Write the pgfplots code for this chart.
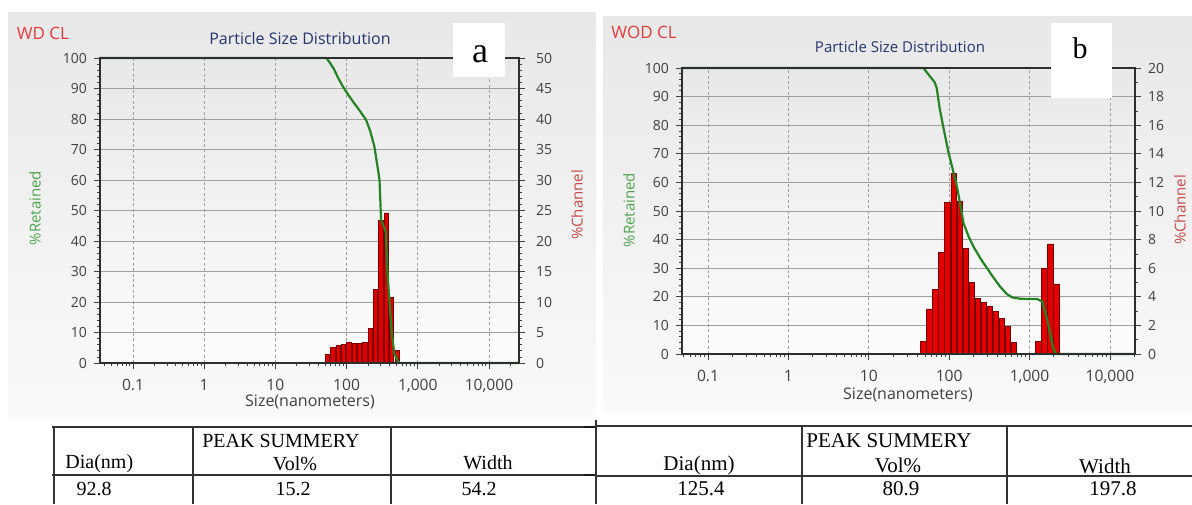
\documentclass[border=0pt]{standalone}
\usepackage{fontspec}
\setmainfont{Liberation Serif}
\newfontfamily\chartfont{Open Sans}
\usepackage{pgfplots}
\pgfplotsset{compat=1.18}

\definecolor{retgreen}{RGB}{36,132,36}
\definecolor{barred}{RGB}{224,0,0}
\definecolor{bardark}{RGB}{120,0,0}
\definecolor{titleblue}{RGB}{38,52,112}
\definecolor{wdred}{RGB}{228,58,58}
\definecolor{lblgreen}{RGB}{78,165,78}
\definecolor{lblred}{RGB}{200,72,72}
\definecolor{tickgray}{RGB}{64,64,64}
\definecolor{gridgray}{RGB}{160,160,160}

\pgfplotsset{
  psdticks/.style={
    tick align=outside,
    major tick length=3pt, minor tick length=1.5pt,
    tick style={tickgray, line width=0.4pt},
    yticklabel style={font=\chartfont\fontsize{7}{8}\selectfont, text=tickgray},
    xticklabel style={font=\chartfont\fontsize{7.8}{9}\selectfont, text=tickgray, yshift=-1.5pt},
    xtick={0.1,1,10,100,1000,10000},
    xticklabels={0.1,1,10,100,{1,000},{10,000}},
    minor xtick={0.04,0.05,0.06,0.07,0.08,0.09,0.2,0.3,0.4,0.5,0.6,0.7,0.8,0.9,2,3,4,5,6,7,8,9,20,30,40,50,60,70,80,90,200,300,400,500,600,700,800,900,2000,3000,4000,5000,6000,7000,8000,9000,20000},
    axis line style={black!82, line width=0.9pt},
  },
}

\begin{document}
\begin{tikzpicture}
\path[use as bounding box] (0,0) rectangle (596pt,-252pt);

% panel backgrounds
\begin{scope}[x=0.5pt, y=-0.5pt]
\shade[top color=black!9, bottom color=black!2] (8,12) rectangle (596,418);
\shade[top color=black!9, bottom color=black!2] (603,16) rectangle (1192,412);
\end{scope}

% ---------- panel a ----------
\begin{axis}[at={(50pt,-181.5pt)}, anchor=south west, scale only axis,
  width=209.5pt, height=152.5pt, xmode=log,
  xmin=0.0344, xmax=26400, ymin=0, ymax=100,
  psdticks, /pgf/number format/assume math mode=true,
  ytick={0,10,...,100}, minor y tick num=4, xtick pos=bottom, ytick pos=left,
  xmajorgrids, ymajorgrids,
  x grid style={gridgray, dash pattern=on 1.5pt off 1.2pt, line width=0.35pt},
  y grid style={gridgray, line width=0.35pt},
  axis background/.style={top color=black!9, bottom color=black!1}]
\addplot[draw=none] coordinates {(1,0)};
\end{axis}

\begin{axis}[at={(50pt,-181.5pt)}, anchor=south west, scale only axis,
  width=209.5pt, height=152.5pt, xmode=log,
  xmin=0.0344, xmax=26400, ymin=0, ymax=50,
  psdticks, /pgf/number format/assume math mode=true,
  axis y line*=right, axis x line=none,
  ytick={0,5,...,50}, minor y tick num=4,
  yticklabel style={xshift=2pt}, bar interval width=0.8]
\addplot[ybar interval, fill=barred, draw=bardark, line width=0.35pt] coordinates {
  (49.24,1.4) (58.56,2.5) (69.64,2.9) (82.81,3.1) (98.48,3.4) (117.1,3.2)
  (139.3,3.2) (165.6,3.4) (197.0,5.7) (234.2,12.1) (278.6,23.4) (331.3,24.6)
  (394.0,10.8) (468.5,2.0) (557.2,0)
};
\end{axis}

\begin{axis}[at={(50pt,-181.5pt)}, anchor=south west, scale only axis,
  width=209.5pt, height=152.5pt, xmode=log,
  xmin=0.0344, xmax=26400, ymin=0, ymax=100,
  xtick=\empty, ytick=\empty, axis on top, clip=false,
  axis line style={black!82, line width=0.9pt}]
\addplot[retgreen, line width=1.1pt] coordinates {
  (0.0344,100) (52,100) (58,98.5) (66,96.5) (76,93.5) (89,90.6) (105,88)
  (125,85.5) (150,83) (188,79.7) (215,76) (246,70.9) (265,66) (282,62)
  (290,60) (298,53) (305,47) (330,45) (355,43) (375,30) (398,21) (430,10)
  (469,3) (517,1) (550,0) (26400,0)
};
\end{axis}

% ---------- panel b ----------
\begin{axis}[at={(341pt,-177pt)}, anchor=south west, scale only axis,
  width=226.5pt, height=143pt, xmode=log,
  xmin=0.0475, xmax=20500, ymin=0, ymax=100,
  psdticks, /pgf/number format/assume math mode=true,
  ytick={0,10,...,100}, minor y tick num=4, xtick pos=bottom, ytick pos=left,
  xmajorgrids, ymajorgrids,
  x grid style={gridgray, dash pattern=on 1.5pt off 1.2pt, line width=0.35pt},
  y grid style={gridgray, line width=0.35pt},
  axis background/.style={top color=black!9, bottom color=black!1}]
\addplot[draw=none] coordinates {(1,0)};
\end{axis}

\begin{axis}[at={(341pt,-177pt)}, anchor=south west, scale only axis,
  width=226.5pt, height=143pt, xmode=log,
  xmin=0.0475, xmax=20500, ymin=0, ymax=20,
  psdticks, /pgf/number format/assume math mode=true,
  axis y line*=right, axis x line=none,
  ytick={0,2,...,20}, minor y tick num=1,
  bar interval width=0.9]
\addplot[ybar interval, fill=barred, draw=bardark, line width=0.35pt] coordinates {
  (43.79,0.9) (52.07,3.15) (61.93,4.5) (73.64,7.1) (87.57,10.6) (104.1,12.6)
  (123.8,10.7) (147.3,7.4) (175.1,5.0) (208.3,3.9) (247.7,3.6) (294.5,3.3)
  (350.3,3.0) (416.5,2.5) (495.3,1.9) (589.1,0.8) (700.5,0)
};
\addplot[ybar interval, fill=barred, draw=bardark, line width=0.35pt] coordinates {
  (1178.3,0.9) (1401.3,6.0) (1666.4,7.7) (1981.7,4.9) (2356.6,0)
};
\end{axis}

\begin{axis}[at={(341pt,-177pt)}, anchor=south west, scale only axis,
  width=226.5pt, height=143pt, xmode=log,
  xmin=0.0475, xmax=20500, ymin=0, ymax=100,
  xtick=\empty, ytick=\empty, axis on top, clip=false,
  axis line style={black!82, line width=0.9pt}]
\addplot[retgreen, line width=1.1pt] coordinates {
  (0.0475,100) (47.8,100) (58,97) (66,95) (70,93) (76,86) (85,79) (98,70.5)
  (112,64) (125,58.5) (140,51) (151,45.7) (175,41) (201,37.5) (250,33)
  (296,30) (350,27) (432,23.5) (520,21) (606,19.8) (772,19.3) (1250,19.2)
  (1445,18.3) (1660,11.9) (1950,2.6) (2115,0) (20500,0)
};
\end{axis}

% ---------- texts, boxes and tables ----------
\begin{scope}[x=0.5pt, y=-0.5pt]
\node[font=\chartfont\fontsize{8.5}{10}\selectfont, text=wdred] at (43,33) {WD CL};
\node[font=\chartfont\fontsize{8}{10}\selectfont, text=titleblue] at (300,38) {Particle Size Distribution};
\fill[white] (453,23) rectangle (505,77);
\node[font=\fontsize{18}{20}\selectfont, anchor=base] at (480,62) {a};
\node[font=\chartfont\fontsize{7.5}{9}\selectfont, text=lblgreen, rotate=90] at (35,208) {\%Retained};
\node[font=\chartfont\fontsize{7.5}{9}\selectfont, text=lblred, rotate=90] at (577,205) {\%Channel};
\node[font=\chartfont\fontsize{8}{10}\selectfont, text=tickgray] at (310,402) {Size(nanometers)};

\node[font=\chartfont\fontsize{8.5}{10}\selectfont, text=wdred] at (644,32) {WOD CL};
\node[font=\chartfont\fontsize{7.5}{9}\selectfont, text=titleblue] at (900,47) {Particle Size Distribution};
\fill[white] (1051,23) rectangle (1112,98);
\node[font=\fontsize{15}{17}\selectfont, anchor=base] at (1080,58) {b};
\node[font=\chartfont\fontsize{7.5}{9}\selectfont, text=lblgreen, rotate=90] at (629,210) {\%Retained};
\node[font=\chartfont\fontsize{7.5}{9}\selectfont, text=lblred, rotate=90] at (1180,210) {\%Channel};
\node[font=\chartfont\fontsize{8}{10}\selectfont, text=tickgray] at (908,395) {Size(nanometers)};

% table a
\draw[black!80, line width=0.6pt] (52,427) -- (588,427);
\draw[black!80, line width=0.6pt] (52,475) -- (588,475);
\draw[black!90, line width=0.9pt] (584,427) -- (596,427) (584,475) -- (596,475);
\draw[black!80, line width=0.6pt] (54,427) -- (54,504) (193,427) -- (193,504)
  (391,427) -- (391,504);
\begin{scope}[every node/.style={font=\fontsize{10}{12}\selectfont, inner sep=0pt}]
\node at (281,441) {PEAK SUMMERY};
\node at (295,464) {Vol\%};
\node[anchor=west] at (65,464) {Dia(nm)};
\node at (488,463) {Width};
\node at (94,489) {92.8};
\node at (293,489) {15.2};
\node at (479,489) {54.2};
\end{scope}

% table b
\draw[black!80, line width=0.6pt] (596,426) -- (1192,426);
\draw[black!80, line width=0.6pt] (596,476) -- (1192,476);
\draw[black!80, line width=0.6pt] (596,420) -- (596,504) (802,426) -- (802,504)
  (1007,426) -- (1007,504);
\begin{scope}[every node/.style={font=\fontsize{10.5}{12}\selectfont, inner sep=0pt}]
\node at (889,441) {PEAK SUMMERY};
\node at (898,465) {Vol\%};
\node at (699,465) {Dia(nm)};
\node at (1105,466) {Width};
\node at (701,489) {125.4};
\node at (901,489) {80.9};
\node at (1113,489) {197.8};
\end{scope}
\end{scope}
\end{tikzpicture}
\end{document}
